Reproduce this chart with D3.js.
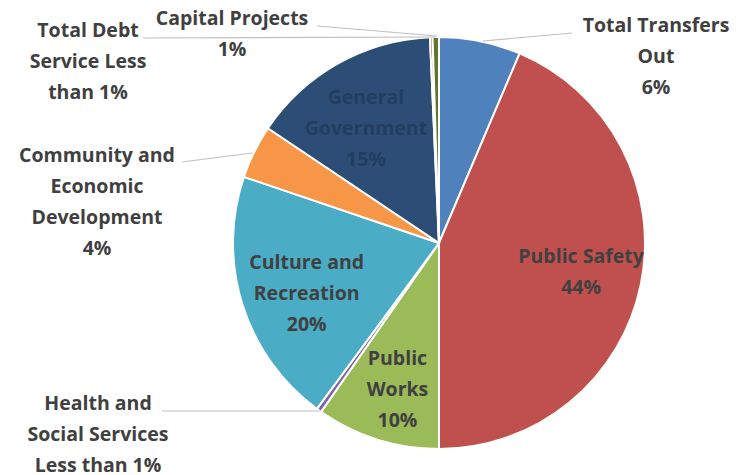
<!DOCTYPE html>
<html>
<head>
<meta charset="utf-8">
<script src="https://cdn.jsdelivr.net/npm/d3@7"></script>
<style>
  body { margin: 0; background: #fff; }
  svg text { font-family: "Open Sans", Lato, sans-serif; font-weight: bold; }
</style>
</head>
<body>
<div id="chart"></div>
<script>
// slices, clockwise from 12 o'clock
const categories = ["Total Transfers Out", "Public Safety", "Public Works", "Health and Social Services",
    "Culture and Recreation", "Community and Economic Development", "General Government",
    "Total Debt Service", "Capital Projects"];
const values = [6.4, 43.6, 9.7, 0.4, 20.1, 4.2, 14.9, 0.2, 0.5];
const labelLines = [
    ["Total Transfers", "Out", "6%"],
    ["Public Safety", "44%"],
    ["Public", "Works", "10%"],
    ["Health and", "Social Services", "Less than 1%"],
    ["Culture and", "Recreation", "20%"],
    ["Community and", "Economic", "Development", "4%"],
    ["General", "Government", "15%"],
    ["Total Debt", "Service Less", "than 1%"],
    ["Capital Projects", "1%"]
];
const colors = ["#4f81bd", "#c0504d", "#9bbb59", "#8064a2", "#4bacc6", "#f79646", "#2c4d75", "#772c2a", "#5f7530"];

let width = 747, height = 475;
let cx = 439, cy = 243, radius = 206;
let lineH = 31;

// outside labels: text centre + leader line (layout only)
let outside = {
    "Total Transfers Out": {x: 656, y: 25, line: [[572, 33], [483, 41]]},
    "Health and Social Services": {x: 98, y: 403, line: [[162, 411], [321, 411]]},
    "Community and Economic Development": {x: 97, y: 155, line: [[182, 162], [252, 153]]},
    "Total Debt Service": {x: 88, y: 30, line: [[143, 38], [436, 37]]},
    "Capital Projects": {x: 232, y: 18, line: [[317, 26], [437, 36]]}
};
// small nudges for the inside labels
let nudge = {
    "Public Safety": [0, 0],
    "Public Works": [2, 8],
    "Culture and Recreation": [6, 7],
    "General Government": [-2, 12]
};

let svg = d3.select("#chart").append("svg")
    .attr("width", width)
    .attr("height", height);

let g = svg.append("g").attr("transform", "translate(" + cx + "," + cy + ")");

let pie = d3.pie().sort(null).value(d => d.value).startAngle(0).endAngle(2 * Math.PI);
let arc = d3.arc().innerRadius(0).outerRadius(radius);
let labelArc = d3.arc().innerRadius(145).outerRadius(145);

let data = categories.map((c, i) => ({name: c, value: values[i], color: colors[i], lines: labelLines[i]}));
let arcs = pie(data);

g.selectAll("path.slice")
    .data(arcs)
    .enter().append("path")
    .attr("class", "slice")
    .attr("d", arc)
    .style("fill", d => d.data.color)
    .style("stroke", "white")
    .style("stroke-width", 2);

// leader lines
svg.selectAll("line.leader")
    .data(arcs.filter(d => outside[d.data.name]))
    .enter().append("line")
    .attr("class", "leader")
    .attr("x1", d => outside[d.data.name].line[0][0])
    .attr("y1", d => outside[d.data.name].line[0][1])
    .attr("x2", d => outside[d.data.name].line[1][0])
    .attr("y2", d => outside[d.data.name].line[1][1])
    .style("stroke", "#bfbfbf")
    .style("stroke-width", 1.2);

// labels
arcs.forEach(function (d) {
    let name = d.data.name;
    let x, y;
    if (outside[name]) {
        x = outside[name].x;
        y = outside[name].y;
    } else {
        let c = labelArc.centroid(d);
        let n = nudge[name] || [0, 0];
        x = cx + c[0] + n[0];
        y = cy + c[1] + n[1] - (d.data.lines.length - 1) * lineH / 2;
    }
    let t = svg.append("text")
        .attr("text-anchor", "middle")
        .style("font-size", "19.5px")
        .style("fill", name === "General Government" ? "#233d5f" : "#404040");
    d.data.lines.forEach(function (l, i) {
        t.append("tspan")
            .attr("x", x)
            .attr("y", y + i * lineH)
            .attr("dy", "0.35em")
            .text(l);
    });
});
</script>
</body>
</html>
